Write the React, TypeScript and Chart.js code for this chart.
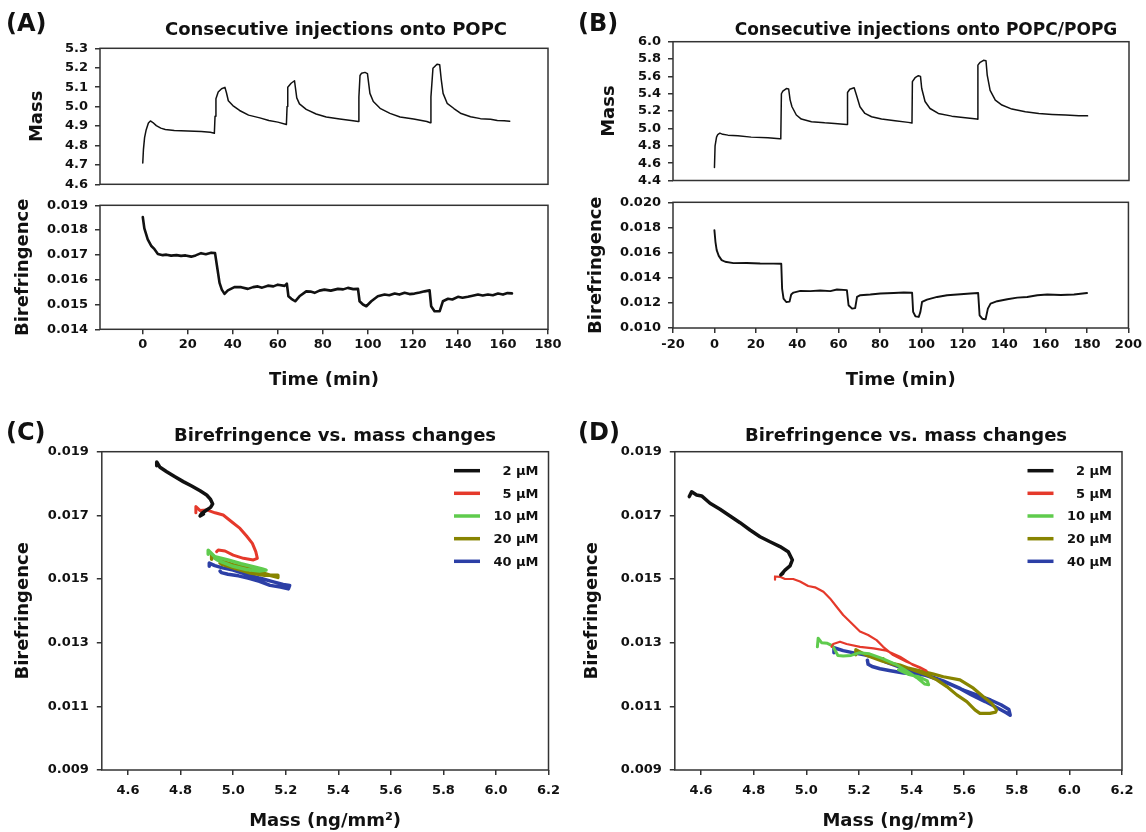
import React, { useEffect, useRef } from "react";
import { Chart, registerables } from "chart.js";

Chart.register(...registerables);

const W = 1146;
const H = 832;
const FONT = "'DejaVu Sans', sans-serif";
const AXIS = "#333333";
const TEXT = "#111111";

// ---------- Panel A (POPC) ----------
const aMassTime = [0, 0.3, 0.8, 1.5, 2.5, 3.4, 4.5, 6, 8, 10, 14, 20, 26, 30, 31.8, 32.1, 32.5, 33.5, 35, 36.5, 37.2, 38, 40, 43, 47, 52, 56, 60, 63.8, 64.1, 64.4, 65.9, 67.4, 68.4, 69.6, 72.6, 77, 81.5, 87.5, 93.4, 95.7, 96, 96.5, 97.2, 98.7, 99.8, 100.9, 102.4, 105.4, 109.8, 114.3, 120.3, 126.2, 127.7, 128, 128.9, 130.7, 131.9, 132.6, 133.4, 135.2, 138.2, 141.1, 145.6, 150, 154.5, 157.5, 160.5, 163];
const aMassValues = [4.71, 4.78, 4.84, 4.88, 4.915, 4.926, 4.918, 4.902, 4.889, 4.882, 4.877, 4.874, 4.872, 4.868, 4.863, 4.95, 5.04, 5.075, 5.092, 5.099, 5.07, 5.03, 5.005, 4.98, 4.956, 4.942, 4.928, 4.92, 4.908, 5.0, 5.1, 5.12, 5.133, 5.045, 5.014, 4.986, 4.962, 4.946, 4.936, 4.927, 4.923, 5.05, 5.16, 5.172, 5.176, 5.17, 5.068, 5.026, 4.991, 4.965, 4.946, 4.936, 4.923, 4.917, 5.05, 5.197, 5.218, 5.215, 5.137, 5.068, 5.017, 4.99, 4.966, 4.948, 4.938, 4.935, 4.928, 4.927, 4.925];
const aBirTime = [0, 0.7, 2.2, 3.7, 5.2, 6.7, 8.9, 10.5, 12.6, 15, 17, 19, 21.5, 23.5, 25.9, 28, 30.4, 32.1, 33, 34.1, 35.1, 36.3, 37.8, 40.7, 43.7, 46.7, 49, 51.1, 53, 55.6, 58, 60, 63, 64, 64.7, 66, 67.7, 69.6, 72.6, 74.5, 76.3, 78.5, 80.7, 83.5, 86.7, 89, 91.1, 93.5, 95.6, 96.3, 97.8, 99.3, 101.5, 104.4, 107.4, 109.5, 111.9, 114, 116.3, 118.5, 120.7, 123, 125.2, 127.4, 128.1, 129.6, 131.9, 133.3, 135.6, 137.5, 140, 142, 144.4, 146.5, 148.9, 151, 153.3, 155.5, 157.8, 160, 162, 164];
const aBirValues = [0.01853, 0.01807, 0.01763, 0.01737, 0.01723, 0.01704, 0.01699, 0.01701, 0.01697, 0.01699, 0.01696, 0.01698, 0.01693, 0.01698, 0.01707, 0.01703, 0.01709, 0.01707, 0.01653, 0.01587, 0.0156, 0.01543, 0.01557, 0.0157, 0.0157, 0.01563, 0.0157, 0.01573, 0.01568, 0.01576, 0.01573, 0.0158, 0.01575, 0.01584, 0.01533, 0.01523, 0.01513, 0.01533, 0.01553, 0.01552, 0.01547, 0.01556, 0.0156, 0.01556, 0.01563, 0.01561, 0.01567, 0.01562, 0.01563, 0.01513, 0.015, 0.01493, 0.01513, 0.01533, 0.0154, 0.01537, 0.01544, 0.0154, 0.01547, 0.01542, 0.01544, 0.01548, 0.01553, 0.01557, 0.01493, 0.01473, 0.01473, 0.01513, 0.01523, 0.0152, 0.01531, 0.01527, 0.01531, 0.01535, 0.0154, 0.01536, 0.0154, 0.01537, 0.01544, 0.0154, 0.01546, 0.01545];
const aTimeTicks = [0, 20, 40, 60, 80, 100, 120, 140, 160, 180];
const aMassTicks = [4.6, 4.7, 4.8, 4.9, 5.0, 5.1, 5.2, 5.3];
const aBirTicks = [0.014, 0.015, 0.016, 0.017, 0.018, 0.019];

// ---------- Panel B (POPC/POPG) ----------
const bMassTime = [0, 0.3, 1, 1.6, 2.6, 4, 6.5, 11.3, 17.7, 25.8, 31.5, 32, 32.3, 33, 34.7, 35.8, 36.5, 37.4, 39.5, 41.9, 46.8, 53.2, 58, 63.7, 64, 64.2, 65.3, 67.4, 68.5, 70.2, 72.6, 75.8, 80.6, 87.1, 93.5, 95.3, 95.5, 96.8, 98.4, 99.4, 100, 101.6, 104, 108, 114.5, 121, 126.6, 127, 127.1, 128.2, 129.8, 131, 131.6, 133, 135.5, 138.7, 143.5, 150, 156.5, 162.9, 169.4, 175.8, 180];
const bMassValues = [4.55, 4.8, 4.9, 4.93, 4.946, 4.932, 4.923, 4.915, 4.9, 4.892, 4.882, 4.88, 5.4, 5.43, 5.46, 5.455, 5.33, 5.25, 5.155, 5.108, 5.078, 5.065, 5.058, 5.046, 5.045, 5.415, 5.452, 5.469, 5.385, 5.25, 5.173, 5.135, 5.108, 5.088, 5.07, 5.062, 5.54, 5.585, 5.608, 5.6, 5.46, 5.31, 5.23, 5.173, 5.142, 5.123, 5.108, 5.106, 5.73, 5.762, 5.785, 5.78, 5.615, 5.44, 5.327, 5.27, 5.223, 5.192, 5.173, 5.162, 5.154, 5.147, 5.145];
const bBirTime = [0, 0.5, 1.1, 2.1, 3.5, 5.2, 9.2, 15.6, 22.1, 28.5, 32.3, 32.7, 33.4, 34.7, 36.3, 37.1, 38.2, 41.5, 46.3, 51.1, 56, 59.2, 64, 64.8, 66.5, 68, 68.9, 70.5, 75.3, 80.2, 86.6, 91.5, 95.5, 96, 97.1, 98.7, 99.5, 100.3, 102.7, 107.6, 112.4, 118.9, 123.7, 127.4, 128.1, 129.4, 131, 132.1, 133.4, 136.6, 141.5, 146.3, 151.1, 156, 160.8, 167.3, 173.7, 180];
const bBirValues = [0.01779, 0.01686, 0.0162, 0.01574, 0.0154, 0.01527, 0.01516, 0.01517, 0.01513, 0.01512, 0.01511, 0.01314, 0.01234, 0.01207, 0.0121, 0.01266, 0.01282, 0.01295, 0.01293, 0.01298, 0.01293, 0.01306, 0.01301, 0.01181, 0.01154, 0.01158, 0.01247, 0.01261, 0.01266, 0.01274, 0.01279, 0.01282, 0.0128, 0.01128, 0.01093, 0.01088, 0.01128, 0.01207, 0.01226, 0.01247, 0.01261, 0.01269, 0.01274, 0.01279, 0.01101, 0.01074, 0.01069, 0.01154, 0.01194, 0.01213, 0.01229, 0.01242, 0.01247, 0.01261, 0.01266, 0.01262, 0.01266, 0.01278];
const bTimeTicks = [-20, 0, 20, 40, 60, 80, 100, 120, 140, 160, 180, 200];
const bMassTicks = [4.4, 4.6, 4.8, 5.0, 5.2, 5.4, 5.6, 5.8, 6.0];
const bBirTicks = [0.01, 0.012, 0.014, 0.016, 0.018, 0.02];

// ---------- Panels C / D (birefringence vs mass) ----------
const seriesLabels = ["2 µM", "5 µM", "10 µM", "20 µM", "40 µM"];
const seriesColors = ["#111111", "#e5392b", "#5fcb4d", "#878400", "#2c3fa6"];
const massTicks = [4.6, 4.8, 5.0, 5.2, 5.4, 5.6, 5.8, 6.0, 6.2];
const birTicks = [0.009, 0.011, 0.013, 0.015, 0.017, 0.019];

const cBlackMass = [4.709, 4.709, 4.7215, 4.747, 4.7785, 4.81, 4.842, 4.874, 4.899, 4.914, 4.922, 4.914, 4.899, 4.88, 4.874, 4.887];
const cBlackBir = [0.01856, 0.01868, 0.01851, 0.01837, 0.01821, 0.01806, 0.01792, 0.01777, 0.01764, 0.0175, 0.01736, 0.01725, 0.01717, 0.01706, 0.01698, 0.01704];
const cRedMass = [4.858, 4.858, 4.874, 4.899, 4.931, 4.962, 4.994, 5.026, 5.051, 5.073, 5.086, 5.092, 5.077, 5.039, 5.0, 4.969, 4.943, 4.937];
const cRedBir = [0.01708, 0.01728, 0.01715, 0.01717, 0.01708, 0.01701, 0.0168, 0.01659, 0.01635, 0.01612, 0.01586, 0.01565, 0.0156, 0.01565, 0.01575, 0.01588, 0.01591, 0.01586];
const cGreenMass = [4.905, 4.905, 4.93, 4.98, 5.03, 5.08, 5.11, 5.125, 5.1, 5.05, 5.0, 4.96, 4.94, 4.93];
const cGreenBir = [0.01578, 0.0159, 0.0157, 0.0156, 0.01548, 0.01538, 0.01532, 0.01528, 0.01525, 0.0153, 0.0154, 0.01552, 0.0156, 0.01565];
const cOliveMass = [4.918, 4.918, 4.95, 5.0, 5.05, 5.1, 5.14, 5.17, 5.17, 5.12, 5.06, 5.0, 4.96, 4.95];
const cOliveBir = [0.01562, 0.01575, 0.01558, 0.01545, 0.01535, 0.01522, 0.01512, 0.01505, 0.01512, 0.01512, 0.0152, 0.01535, 0.01545, 0.0155];
const cBlueMass = [4.909, 4.909, 4.93, 4.96, 5.0, 5.05, 5.1, 5.15, 5.19, 5.215, 5.21, 5.18, 5.14, 5.1, 5.06, 5.02, 4.98, 4.955, 4.95];
const cBlueBir = [0.0154, 0.0155, 0.01542, 0.01535, 0.01528, 0.01515, 0.01503, 0.01492, 0.01483, 0.0148, 0.01469, 0.01475, 0.0148, 0.01493, 0.01502, 0.0151, 0.01515, 0.0152, 0.01525];

const dBlackMass = [4.555, 4.564, 4.583, 4.602, 4.634, 4.672, 4.71, 4.748, 4.786, 4.824, 4.862, 4.9, 4.931, 4.947, 4.938, 4.919, 4.903, 4.911];
const dBlackBir = [0.01759, 0.01774, 0.01764, 0.01761, 0.01738, 0.01719, 0.01698, 0.01677, 0.01654, 0.01633, 0.01617, 0.01602, 0.01586, 0.0156, 0.01541, 0.01528, 0.01513, 0.01518];
const dRedMass = [4.881, 4.881, 4.9, 4.919, 4.95, 4.976, 5.007, 5.033, 5.065, 5.09, 5.115, 5.14, 5.172, 5.204, 5.235, 5.267, 5.292, 5.33, 5.381, 5.432, 5.457, 5.406, 5.356, 5.305, 5.255, 5.204, 5.153, 5.128, 5.102, 5.096];
const dRedBir = [0.01498, 0.01508, 0.01507, 0.015, 0.015, 0.01492, 0.01478, 0.01474, 0.0146, 0.01439, 0.01413, 0.01387, 0.01361, 0.01335, 0.01324, 0.01308, 0.01287, 0.01261, 0.0124, 0.01223, 0.01212, 0.0123, 0.01256, 0.01275, 0.01282, 0.01287, 0.01296, 0.01303, 0.01296, 0.01287];
const dGreenMass = [5.042, 5.045, 5.058, 5.08, 5.1, 5.12, 5.14, 5.17, 5.2, 5.24, 5.29, 5.34, 5.38, 5.42, 5.45, 5.465, 5.46, 5.43, 5.39, 5.35];
const dGreenBir = [0.01287, 0.01314, 0.013, 0.01298, 0.0129, 0.0126, 0.01258, 0.0126, 0.01268, 0.01265, 0.0125, 0.01232, 0.01212, 0.0119, 0.0117, 0.01168, 0.0118, 0.01192, 0.012, 0.01215];
const dOliveMass = [5.188, 5.188, 5.23, 5.29, 5.35, 5.4, 5.44, 5.48, 5.521, 5.584, 5.635, 5.673, 5.704, 5.723, 5.72, 5.698, 5.66, 5.641, 5.61, 5.572, 5.534, 5.496, 5.457, 5.406, 5.356, 5.3, 5.292];
const dOliveBir = [0.01262, 0.01278, 0.0126, 0.01242, 0.01228, 0.01218, 0.0121, 0.01202, 0.01193, 0.01183, 0.01157, 0.0113, 0.0111, 0.01089, 0.01082, 0.01078, 0.01078, 0.01089, 0.01115, 0.01136, 0.01162, 0.01183, 0.01199, 0.01214, 0.0123, 0.0124, 0.0125];
const dBlueMass = [5.105, 5.105, 5.14, 5.18, 5.22, 5.26, 5.3, 5.35, 5.4, 5.45, 5.5, 5.55, 5.6, 5.65, 5.7, 5.74, 5.77, 5.775, 5.76, 5.72, 5.68, 5.63, 5.58, 5.52, 5.47, 5.42, 5.37, 5.32, 5.28, 5.25, 5.235, 5.232];
const dBlueBir = [0.01268, 0.01284, 0.01275, 0.01268, 0.01262, 0.01255, 0.0124, 0.01225, 0.0121, 0.01198, 0.01185, 0.01168, 0.0115, 0.01135, 0.0112, 0.01105, 0.0109, 0.01072, 0.0108, 0.01098, 0.01115, 0.01135, 0.01158, 0.0118, 0.01195, 0.01202, 0.01205, 0.01212, 0.01218, 0.01225, 0.01232, 0.01245];

// ---------- helpers ----------
const pts = (xs: number[], ys: number[]) => xs.map((x, i) => ({ x, y: ys[i] }));

type Rect = { L: number; T: number; R: number; B: number };
type Series = { data: { x: number; y: number }[]; color: string; width: number };
type AxisSpec = { min: number; max: number; ticks: number[]; dec: number; show: boolean; title?: string; pad: number };
type Panel = { rect: Rect; yW: number; xH: number; x: AxisSpec; y: AxisSpec; series: Series[]; legend?: boolean };

const tickFont = { family: FONT, size: 13, weight: "bold" as const };
const titleFont = { family: FONT, size: 18, weight: "bold" as const, lineHeight: 1 };

const framePlugin = {
  id: "frameBox",
  afterDraw(chart: any) {
    const { ctx, chartArea: a } = chart;
    ctx.save();
    ctx.strokeStyle = AXIS;
    ctx.lineWidth = 1.5;
    ctx.strokeRect(a.left, a.top, a.right - a.left, a.bottom - a.top);
    ctx.restore();
  },
};

const legendOffsets = [19, 41.6, 64.3, 87, 109.6];
const legendPlugin = {
  id: "concLegend",
  afterDatasetsDraw(chart: any) {
    const { ctx, chartArea: a } = chart;
    ctx.save();
    ctx.font = `bold 13px ${FONT}`;
    ctx.textAlign = "right";
    ctx.textBaseline = "middle";
    ctx.fillStyle = TEXT;
    seriesLabels.forEach((lab, i) => {
      const y = a.top + legendOffsets[i];
      ctx.strokeStyle = seriesColors[i];
      ctx.lineWidth = 3.5;
      ctx.beginPath();
      ctx.moveTo(a.right - 94.5, y);
      ctx.lineTo(a.right - 68.5, y);
      ctx.stroke();
      ctx.fillText(lab, a.right - 10, y + 1);
    });
    ctx.restore();
  },
};

function axis(spec: AxisSpec, isX: boolean, size: number) {
  return {
    type: "linear" as const,
    display: isX ? spec.show || !!spec.title : true,
    min: spec.min,
    max: spec.max,
    afterBuildTicks: (s: any) => {
      s.ticks = spec.ticks.map((v) => ({ value: v }));
    },
    afterFit: (s: any) => {
      if (isX) s.height = size;
      else s.width = size;
    },
    ticks: {
      display: spec.show,
      autoSkip: false,
      maxRotation: 0,
      padding: spec.pad,
      color: TEXT,
      font: tickFont,
      callback: (v: any) => Number(v).toFixed(spec.dec),
    },
    grid: {
      display: spec.show,
      drawOnChartArea: false,
      drawTicks: true,
      tickLength: 5,
      color: AXIS,
      lineWidth: 1.5,
    },
    border: { display: false },
    title: {
      display: !!spec.title,
      text: spec.title || "",
      color: TEXT,
      font: titleFont,
      padding: 0,
    },
  };
}

function buildConfig(p: Panel): any {
  return {
    type: "line",
    data: {
      datasets: p.series.map((s) => ({
        data: s.data,
        borderColor: s.color,
        borderWidth: s.width,
        pointRadius: 0,
        tension: 0,
        fill: false,
        borderJoinStyle: "round",
        borderCapStyle: "round",
      })),
    },
    options: {
      responsive: false,
      animation: false,
      devicePixelRatio: 1,
      events: [],
      layout: {
        padding: {
          left: p.rect.L - p.yW,
          top: p.rect.T,
          right: W - p.rect.R,
          bottom: H - p.rect.B - p.xH,
        },
      },
      plugins: { legend: { display: false }, tooltip: { enabled: false }, title: { display: false } },
      scales: {
        x: axis(p.x, true, p.xH),
        y: axis(p.y, false, p.yW),
      },
    },
    plugins: p.legend ? [framePlugin, legendPlugin] : [framePlugin],
  };
}

const mk = (mass: number[], bir: number[], i: number, width: number): Series => ({
  data: pts(mass, bir),
  color: seriesColors[i],
  width,
});

const panels: Panel[] = [
  {
    rect: { L: 100, T: 48.3, R: 548, B: 184.3 },
    yW: 72,
    xH: 0,
    x: { min: -19, max: 180, ticks: aTimeTicks, dec: 0, show: false, pad: 3 },
    y: { min: 4.6, max: 5.3, ticks: aMassTicks, dec: 1, show: true, title: "Mass", pad: 7 },
    series: [{ data: pts(aMassTime, aMassValues), color: "#111111", width: 1.5 }],
  },
  {
    rect: { L: 100, T: 205.3, R: 548, B: 329.3 },
    yW: 86,
    xH: 59.7,
    x: { min: -19, max: 180, ticks: aTimeTicks, dec: 0, show: true, title: "Time (min)", pad: 3 },
    y: { min: 0.014, max: 0.019, ticks: aBirTicks, dec: 3, show: true, title: "Birefringence", pad: 7 },
    series: [{ data: pts(aBirTime, aBirValues), color: "#111111", width: 2.6 }],
  },
  {
    rect: { L: 673, T: 41.7, R: 1129, B: 180.5 },
    yW: 72.2,
    xH: 0,
    x: { min: -20, max: 200, ticks: bTimeTicks, dec: 0, show: false, pad: 4 },
    y: { min: 4.4, max: 6.0, ticks: bMassTicks, dec: 1, show: true, title: "Mass", pad: 7 },
    series: [{ data: pts(bMassTime, bMassValues), color: "#111111", width: 1.5 }],
  },
  {
    rect: { L: 673, T: 202.3, R: 1129, B: 328 },
    yW: 86,
    xH: 61,
    x: { min: -20, max: 200, ticks: bTimeTicks, dec: 0, show: true, title: "Time (min)", pad: 4 },
    y: { min: 0.01, max: 0.02, ticks: bBirTicks, dec: 3, show: true, title: "Birefringence", pad: 7 },
    series: [{ data: pts(bBirTime, bBirValues), color: "#111111", width: 1.9 }],
  },
  {
    rect: { L: 101.8, T: 451.7, R: 548.5, B: 770 },
    yW: 87.8,
    xH: 60.7,
    x: { min: 4.5, max: 6.2, ticks: massTicks, dec: 1, show: true, title: "Mass (ng/mm²)", pad: 8 },
    y: { min: 0.009, max: 0.019, ticks: birTicks, dec: 3, show: true, title: "Birefringence", pad: 8 },
    legend: true,
    series: [
      mk(cBlackMass, cBlackBir, 0, 3.5),
      mk(cRedMass, cRedBir, 1, 3),
      mk(cGreenMass, cGreenBir, 2, 3.5),
      mk(cOliveMass, cOliveBir, 3, 3.5),
      mk(cBlueMass, cBlueBir, 4, 3.5),
    ],
  },
  {
    rect: { L: 674.8, T: 451.7, R: 1122, B: 770 },
    yW: 91.8,
    xH: 60.7,
    x: { min: 4.5, max: 6.2, ticks: massTicks, dec: 1, show: true, title: "Mass (ng/mm²)", pad: 8 },
    y: { min: 0.009, max: 0.019, ticks: birTicks, dec: 3, show: true, title: "Birefringence", pad: 8 },
    legend: true,
    series: [
      mk(dBlackMass, dBlackBir, 0, 3.5),
      mk(dRedMass, dRedBir, 1, 2.2),
      mk(dGreenMass, dGreenBir, 2, 3),
      mk(dOliveMass, dOliveBir, 3, 3.2),
      mk(dBlueMass, dBlueBir, 4, 3.5),
    ],
  },
];

const overlayTexts = [
  { text: "(A)", x: 6, y: 23, size: 24, center: false },
  { text: "Consecutive injections onto POPC", x: 336, y: 29, size: 18, center: true },
  { text: "(B)", x: 578, y: 23, size: 24, center: false },
  { text: "Consecutive injections onto POPC/POPG", x: 926, y: 29, size: 17, center: true },
  { text: "(C)", x: 6, y: 432, size: 24, center: false },
  { text: "Birefringence vs. mass changes", x: 335, y: 435, size: 18, center: true },
  { text: "(D)", x: 578, y: 432, size: 24, center: false },
  { text: "Birefringence vs. mass changes", x: 906, y: 435, size: 18, center: true },
];

export default function App() {
  const refs = useRef<(HTMLCanvasElement | null)[]>([]);

  useEffect(() => {
    const charts = panels.map((p, i) => new Chart(refs.current[i] as HTMLCanvasElement, buildConfig(p)));
    return () => charts.forEach((c) => c.destroy());
  }, []);

  return (
    <div
      style={{
        position: "absolute",
        left: 0,
        top: 0,
        width: W,
        height: H,
        background: "#ffffff",
        fontFamily: FONT,
        overflow: "hidden",
      }}
    >
      {panels.map((_, i) => (
        <canvas
          key={i}
          ref={(el) => {
            refs.current[i] = el;
          }}
          width={W}
          height={H}
          style={{ position: "absolute", left: 0, top: 0, width: W, height: H }}
        />
      ))}
      {overlayTexts.map((t, i) => (
        <div
          key={"t" + i}
          style={{
            position: "absolute",
            left: t.x,
            top: t.y,
            transform: t.center ? "translate(-50%, -50%)" : "translate(0, -50%)",
            fontFamily: FONT,
            fontWeight: "bold",
            fontSize: t.size,
            lineHeight: 1,
            color: TEXT,
            whiteSpace: "nowrap",
          }}
        >
          {t.text}
        </div>
      ))}
    </div>
  );
}
